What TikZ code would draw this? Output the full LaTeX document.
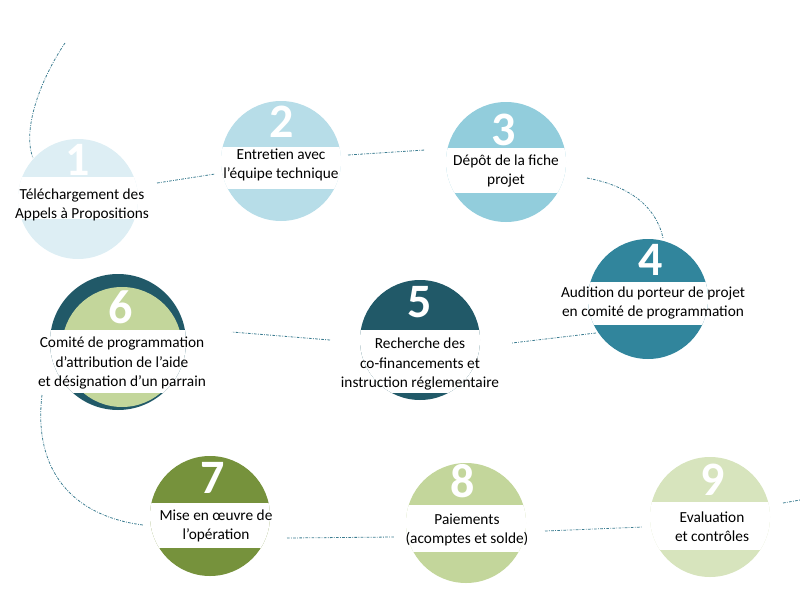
\documentclass[tikz,border=0pt]{standalone}
\usepackage{fontspec}
\setmainfont{Carlito}
\usetikzlibrary{calc}
\definecolor{cA}{RGB}{221,238,244}
\definecolor{cB}{RGB}{183,221,232}
\definecolor{cC}{RGB}{146,205,220}
\definecolor{cD}{RGB}{49,133,156}
\definecolor{cE}{RGB}{33,89,104}
\definecolor{cF}{RGB}{195,214,155}
\definecolor{cG}{RGB}{118,146,60}
\definecolor{cH}{RGB}{215,228,189}
\definecolor{linkc}{RGB}{60,125,145}
\newcommand\mkdisc[6]{%
  \node[disc,fill=#4] (#1) at (#2,#3) {};
  \begin{scope}
    \clip (#1.center) circle[radius=60];
    \fill[white] ($(#1.center)+(-70,#5)$) rectangle ($(#1.center)+(70,#6)$);
  \end{scope}}
\begin{document}
\begin{tikzpicture}[x=0.75pt,y=-0.75pt,
  disc/.style={circle,minimum size=90pt,inner sep=0pt,draw=none},
  num/.style={anchor=base,text=white,font=\fontsize{36}{36}\selectfont\bfseries,inner sep=0pt},
  lbl/.style={align=center,font=\fontsize{11.5}{14.4}\selectfont,inner sep=1pt,text=black},
  link/.style={draw=linkc,line width=0.6pt,dash pattern=on 2pt off 1pt on 0.6pt off 1pt}]
\useasboundingbox (0,0) rectangle (800,600);
% connectors
\coordinate (k0a) at (65,43);  \coordinate (k0b) at (33,158);
\coordinate (k1a) at (157,183); \coordinate (k1b) at (215,174);
\coordinate (k2a) at (348,155); \coordinate (k2b) at (425,150);
\coordinate (k3a) at (587,178); \coordinate (k3b) at (663,238);
\coordinate (k4a) at (596,333); \coordinate (k4b) at (512,343);
\coordinate (k5a) at (330,340); \coordinate (k5b) at (232,332);
\coordinate (k6a) at (42,395);  \coordinate (k6b) at (143,525);
\coordinate (k7a) at (287,538); \coordinate (k7b) at (395,537);
\coordinate (k8a) at (545,531); \coordinate (k8b) at (643,527);
\coordinate (k9a) at (783,503); \coordinate (k9b) at (800,500);
\draw[link] (k0a) .. controls (40,80) and (22,130) .. (k0b);
\draw[link] (k1a) -- (k1b);
\draw[link] (k2a) -- (k2b);
\draw[link] (k3a) .. controls (640,188) and (658,215) .. (k3b);
\draw[link] (k4a) -- (k4b);
\draw[link] (k5a) -- (k5b);
\draw[link] (k6a) .. controls (33,470) and (72,516) .. (k6b);
\draw[link] (k7a) -- (k7b);
\draw[link] (k8a) -- (k8b);
\draw[link] (k9a) -- (k9b);
% discs
\mkdisc{d1}{78}{199}{cA}{-22}{20}
\mkdisc{d2}{281}{161}{cB}{-14}{28}
\mkdisc{d3}{506}{162}{cC}{-14}{31}
\mkdisc{d4}{648}{299}{cD}{-17}{26}
\mkdisc{d5}{420}{340}{cE}{-10}{53}
\node[disc,fill=cE,minimum size=102pt] (d6o) at (118,342) {};
\node[disc,fill=cF] (d6) at (122,347) {};
\begin{scope}
  \clip (d6o.center) circle[radius=68];
  \fill[white] ($(d6.center)+(-80,-17)$) rectangle ($(d6.center)+(80,46)$);
\end{scope}
\mkdisc{d7}{210}{516}{cG}{-13}{32}
\mkdisc{d8}{466}{523}{cF}{-18}{29}
\mkdisc{d9}{710}{517}{cH}{-15}{33}
% numbers
\node[num] (n1) at (78,175) {1};
\node[num] (n2) at (282,137) {2};
\node[num] (n3) at (504,145) {3};
\node[num] (n4) at (651,275) {4};
\node[num] (n5) at (420,317) {5};
\node[num] (n6) at (121,323) {6};
\node[num] (n7) at (213,493) {7};
\node[num] (n8) at (463,497) {8};
\node[num] (n9) at (713,495) {9};
% labels
\node[lbl] (t1) at (82,205) {Téléchargement des\\Appels à Propositions};
\node[lbl] (t2) at (281,165) {Entretien avec\\l’équipe technique};
\node[lbl] (t3) at (506,171) {Dépôt de la fiche\\projet};
\node[lbl] (t4) at (653,303) {Audition du porteur de projet\\en comité de programmation};
\node[lbl] (t5) at (420,364) {Recherche des\\co-financements et\\instruction réglementaire};
\node[lbl] (t6) at (122,363) {Comité de programmation\\d’attribution de l’aide\\et désignation d’un parrain};
\node[lbl] (t7) at (216,526) {Mise en œuvre de\\l’opération};
\node[lbl] (t8) at (467,530) {Paiements\\(acomptes et solde)};
\node[lbl] (t9) at (712,527) {Evaluation\\et contrôles};
\end{tikzpicture}
\end{document}
